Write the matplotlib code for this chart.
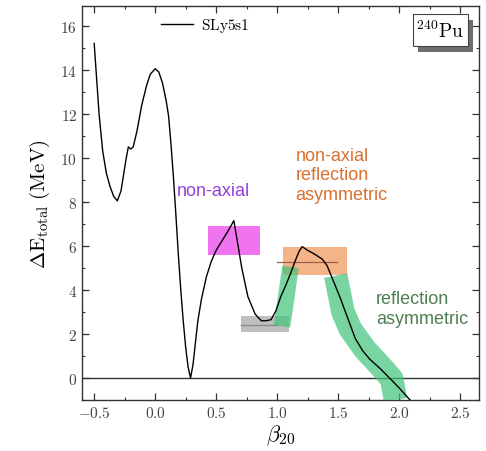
import matplotlib
matplotlib.use("Agg")
import matplotlib.pyplot as plt
from matplotlib.patches import Rectangle
from matplotlib.ticker import MultipleLocator, FixedLocator

plt.rcParams["mathtext.fontset"] = "cm"
plt.rcParams["font.family"] = ["DejaVu Serif"]

# Total energy along the fission path, SLy5s1
beta20 = [-0.50, -0.48, -0.46, -0.43, -0.40, -0.37, -0.34, -0.31, -0.28, -0.26,
          -0.24, -0.22, -0.20, -0.18, -0.15, -0.11, -0.07, -0.04, 0.00, 0.03,
          0.06, 0.09, 0.11, 0.13, 0.15, 0.17, 0.19, 0.21, 0.23, 0.25,
          0.27, 0.29, 0.31, 0.33, 0.35, 0.38, 0.42, 0.46, 0.50, 0.55,
          0.60, 0.645, 0.68, 0.71, 0.76, 0.82, 0.87, 0.91, 0.95, 0.99,
          1.03, 1.07, 1.11, 1.15, 1.18, 1.205, 1.25, 1.30, 1.37, 1.41,
          1.45, 1.48, 1.52, 1.58, 1.64, 1.70, 1.76, 1.85, 1.93, 2.00,
          2.09]
energy = [15.2, 13.6, 12.0, 10.3, 9.3, 8.7, 8.25, 8.05, 8.5, 9.2,
          9.9, 10.5, 10.4, 10.5, 11.2, 12.4, 13.3, 13.8, 14.05, 13.9,
          13.4, 12.6, 11.9, 10.6, 9.1, 7.4, 5.6, 4.0, 2.6, 1.4,
          0.5, 0.0, 0.6, 1.6, 2.6, 3.6, 4.6, 5.3, 5.8, 6.25,
          6.7, 7.15, 6.0, 5.0, 3.7, 2.9, 2.6, 2.6, 2.65, 3.05,
          3.7, 4.2, 4.75, 5.35, 5.75, 5.97, 5.8, 5.65, 5.4, 5.1,
          4.55, 4.15, 3.6, 2.7, 1.8, 1.25, 0.85, 0.4, -0.05, -0.45,
          -1.0]

# Shaded regions: (beta_min, beta_max, E_min, E_max)
nonaxial_box = (0.435, 0.86, 5.6, 6.9)
axial_box = (0.70, 1.10, 2.1, 2.8)
nonaxial_refl_box = (1.05, 1.575, 4.7, 5.95)

# Reference levels drawn across the boxes
axial_level = (0.70, 1.0, 2.4)
nonaxial_refl_level = (1.0, 1.49, 5.27)

# Reflection-asymmetric branches
refl_branch1_beta = [1.04, 1.11]
refl_branch1_E = [2.35, 5.05]
refl_branch2_beta = [1.48, 1.54, 1.60, 1.72, 1.87, 1.94, 1.97]
refl_branch2_E = [4.65, 3.0, 2.23, 1.3, 0.4, -0.05, -1.0]

x_ticks = [-0.5, 0.0, 0.5, 1.0, 1.5, 2.0, 2.5]
y_ticks = [0, 2, 4, 6, 8, 10, 12, 14, 16]

fig = plt.figure(figsize=(4.86, 4.52), dpi=100)
ax = fig.add_axes([0.1687, 0.1128, 0.8169, 0.8717])

ax.set_xlim(-0.6, 2.655)
ax.set_ylim(-1.0, 16.9)

ax.axhline(0, color="#333333", lw=1.0, zorder=1)

def box(b, color, alpha):
    ax.add_patch(Rectangle((b[0], b[2]), b[1] - b[0], b[3] - b[2],
                           facecolor=color, edgecolor="none", alpha=alpha, zorder=2))

box(nonaxial_box, "#ee5cee", 0.85)
box(axial_box, "#b8b8b8", 0.9)
box(nonaxial_refl_box, "#f4a673", 0.85)

ax.plot(axial_level[:2], [axial_level[2]] * 2, color="#8a8a8a", lw=1.0, zorder=3)
ax.plot(nonaxial_refl_level[:2], [nonaxial_refl_level[2]] * 2, color="#a0604a", lw=0.9, zorder=3)

green = "#3fc479"
ax.plot(refl_branch1_beta, refl_branch1_E, color=green, lw=12, alpha=0.7,
        solid_capstyle="butt", zorder=3)
ax.plot(refl_branch2_beta, refl_branch2_E, color=green, lw=17, alpha=0.7,
        solid_capstyle="butt", solid_joinstyle="round", zorder=3)

ax.plot(beta20, energy, color="black", lw=1.0, zorder=4, label=r"$\mathrm{SLy5s1}$")

ax.text(0.18, 8.5, "non-axial", color="#9440d8", fontsize=13,
        family="Liberation Sans", va="center", ha="left")
ax.text(1.15, 10.5, "non-axial\nreflection\nasymmetric", color="#d9702e", fontsize=13,
        family="Liberation Sans", va="top", ha="left", linespacing=1.2)
ax.text(1.81, 3.15, "reflection\nasymmetric", color="#4d7f52", fontsize=13,
        family="Liberation Sans", va="center", ha="left", linespacing=1.2)

leg = ax.legend(loc="upper left", bbox_to_anchor=(0.2, 0.975), frameon=False,
                fontsize=11, handlelength=2.1, handletextpad=0.5,
                borderaxespad=0, borderpad=0)

# isotope label with drop shadow
ax.add_patch(Rectangle((0.847, 0.884), 0.138, 0.081, transform=ax.transAxes,
                       facecolor="#6e6e6e", edgecolor="none", zorder=5, clip_on=False))
ax.add_patch(Rectangle((0.834, 0.898), 0.138, 0.081, transform=ax.transAxes,
                       facecolor="white", edgecolor="#444444", lw=0.8, zorder=6, clip_on=False))
ax.text(0.903, 0.938, r"$^{240}\mathrm{Pu}$", transform=ax.transAxes, fontsize=14,
        ha="center", va="center", zorder=7)

ax.xaxis.set_major_locator(FixedLocator(x_ticks))
ax.yaxis.set_major_locator(FixedLocator(y_ticks))
ax.xaxis.set_minor_locator(MultipleLocator(0.25))
ax.yaxis.set_minor_locator(MultipleLocator(1))
ax.set_xticklabels([r"$%.1f$" % v for v in x_ticks])
ax.set_yticklabels([r"$%d$" % v for v in y_ticks])
ax.tick_params(which="both", direction="in", top=True, right=True,
               labelsize=11, labelcolor="#444444", color="#333333")
ax.tick_params(which="major", length=5, width=0.9)
ax.tick_params(which="minor", length=2.5, width=0.8)
for s in ax.spines.values():
    s.set_linewidth(1.0)
    s.set_color("#333333")

ax.set_xlabel(r"$\beta_{20}$", fontsize=16, labelpad=2)
ax.set_ylabel(r"$\Delta\mathrm{E}_{\mathrm{total}}\ \mathrm{(MeV)}$", fontsize=15, labelpad=6)

fig.savefig("out.png", dpi=100)
